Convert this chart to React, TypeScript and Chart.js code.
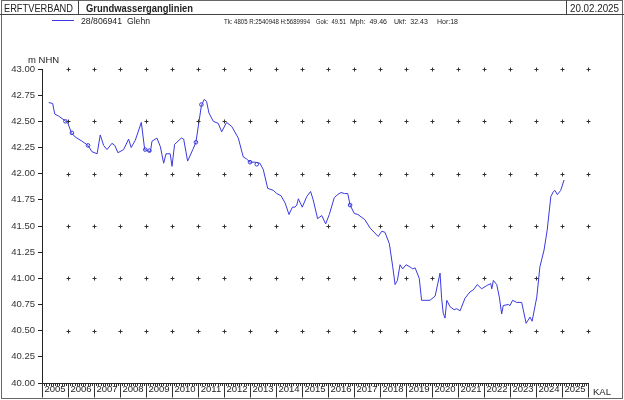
import React, { useEffect, useRef } from "react";
import { Chart, registerables } from "chart.js";

Chart.register(...registerables);

const years = [
  2005.26, 2005.41, 2005.49, 2005.64, 2005.87, 2006.0, 2006.13, 2006.28, 2006.54, 2006.77,
  2006.92, 2007.12, 2007.24, 2007.37, 2007.5, 2007.69, 2007.8, 2007.92, 2008.14, 2008.33,
  2008.43, 2008.59, 2008.82, 2008.95, 2009.17, 2009.23, 2009.42, 2009.55, 2009.68, 2009.77,
  2009.93, 2010.0, 2010.1, 2010.36, 2010.45, 2010.6, 2010.8, 2010.92, 2011.13, 2011.24,
  2011.33, 2011.42, 2011.59, 2011.78, 2011.91, 2012.1, 2012.3, 2012.55, 2012.74, 2012.87,
  2013.0, 2013.19, 2013.38, 2013.51, 2013.68, 2013.9, 2014.03, 2014.19, 2014.35, 2014.5,
  2014.63, 2014.73, 2014.8, 2014.86, 2015.01, 2015.18, 2015.33, 2015.43, 2015.6, 2015.76,
  2015.91, 2016.05, 2016.24, 2016.37, 2016.5, 2016.63, 2016.76, 2016.85, 2017.01, 2017.15,
  2017.42, 2017.62, 2017.93, 2018.07, 2018.19, 2018.36, 2018.49, 2018.58, 2018.67, 2018.77,
  2018.87, 2019.0, 2019.15, 2019.26, 2019.35, 2019.51, 2019.6, 2019.92, 2020.12, 2020.31,
  2020.37, 2020.43, 2020.5, 2020.57, 2020.69, 2020.85, 2020.95, 2021.08, 2021.27, 2021.46,
  2021.59, 2021.74, 2021.91, 2022.1, 2022.26, 2022.3, 2022.36, 2022.49, 2022.59, 2022.68,
  2022.74, 2022.93, 2023.0, 2023.1, 2023.26, 2023.45, 2023.62, 2023.77, 2023.85, 2024.03,
  2024.15, 2024.31, 2024.43, 2024.57, 2024.67, 2024.73, 2024.82, 2024.95, 2025.08,
];

const levels = [
  42.68, 42.67, 42.57, 42.55, 42.51, 42.48, 42.39, 42.35, 42.31, 42.27,
  42.21, 42.19, 42.37, 42.27, 42.23, 42.29, 42.27, 42.2, 42.23, 42.33,
  42.25, 42.32, 42.49, 42.23, 42.21, 42.31, 42.34, 42.26, 42.1, 42.19,
  42.19, 42.07, 42.28, 42.34, 42.33, 42.12, 42.23, 42.3, 42.65, 42.71,
  42.69, 42.58, 42.5, 42.48, 42.4, 42.49, 42.45, 42.34, 42.16, 42.14,
  42.11, 42.11, 42.1, 42.04, 41.86, 41.84, 41.81, 41.79, 41.72, 41.61,
  41.68, 41.68, 41.7, 41.76, 41.68, 41.78, 41.83, 41.75, 41.57, 41.6,
  41.52, 41.61, 41.77, 41.8, 41.82, 41.81, 41.81, 41.7, 41.62, 41.61,
  41.56, 41.48, 41.4, 41.45, 41.44, 41.33, 41.11, 40.94, 40.98, 41.13,
  41.09, 41.13, 41.11, 41.09, 41.1, 41.0, 40.79, 40.79, 40.83, 41.05,
  40.81, 40.67, 40.62, 40.79, 40.73, 40.7, 40.71, 40.69, 40.81, 40.87,
  40.89, 40.94, 40.9, 40.93, 40.95, 40.9, 40.98, 40.94, 40.82, 40.66,
  40.74, 40.75, 40.74, 40.79, 40.77, 40.77, 40.57, 40.63, 40.59, 40.82,
  41.11, 41.27, 41.46, 41.78, 41.83, 41.84, 41.8, 41.84, 41.94,
];

const markerYears = [2005.9, 2006.15, 2006.77, 2008.97, 2009.13, 2010.92, 2011.13, 2013.0, 2013.26, 2016.85];
const markerLevels = [42.5, 42.39, 42.27, 42.23, 42.22, 42.3, 42.66, 42.11, 42.09, 41.7];

const yearLabels = [
  "2005", "2006", "2007", "2008", "2009", "2010", "2011", "2012", "2013", "2014", "2015",
  "2016", "2017", "2018", "2019", "2020", "2021", "2022", "2023", "2024", "2025",
];

const crossLevels = [40.5, 41.0, 41.5, 42.0, 42.5, 43.0];

const infoTexts = ["Tk: 4805 R:2540948 H:5689994", "Gok:  49.51", "Mph:  49.46", "Ukf:  32.43", "Hor:18"];

const FONT = "'Liberation Sans', Arial, sans-serif";
const BLUE = "#3a3ae0";

const decorPlugin = {
  id: "decor",
  beforeDraw(chart: any) {
    const ctx = chart.ctx;
    ctx.save();
    ctx.fillStyle = "#fff";
    ctx.fillRect(0, 0, chart.width, chart.height);
    ctx.restore();
  },
  afterDraw(chart: any) {
    const ctx = chart.ctx;
    const xs = chart.scales.x;
    const ys = chart.scales.y;
    const area = chart.chartArea;
    ctx.save();
    // frame
    ctx.strokeStyle = "#666";
    ctx.lineWidth = 1;
    ctx.strokeRect(1.5, 0.5, 621, 398);
    ctx.strokeStyle = "#444";
    ctx.beginPath();
    ctx.moveTo(0, 14.5);
    ctx.lineTo(624, 14.5);
    ctx.moveTo(78.5, 0);
    ctx.lineTo(78.5, 14);
    ctx.moveTo(566.5, 0);
    ctx.lineTo(566.5, 14);
    ctx.stroke();

    ctx.fillStyle = "#222";
    ctx.textBaseline = "alphabetic";
    ctx.textAlign = "left";
    ctx.font = `11px ${FONT}`;
    ctx.fillText("ERFTVERBAND", 4, 11.5, 69);
    ctx.font = `bold 11px ${FONT}`;
    ctx.fillText("Grundwasserganglinien", 86, 11.5, 107);
    ctx.font = `11px ${FONT}`;
    ctx.fillText("20.02.2025", 570, 11.5, 49);

    // legend
    ctx.strokeStyle = BLUE;
    ctx.beginPath();
    ctx.moveTo(52, 20.5);
    ctx.lineTo(74, 20.5);
    ctx.stroke();
    ctx.fillStyle = "#222";
    ctx.font = `9px ${FONT}`;
    ctx.fillText("28/806941", 81, 24, 41);
    ctx.fillText("Glehn", 127, 24, 23);
    ctx.font = `7px ${FONT}`;
    const starts = [224, 316, 350, 394, 437];
    const widths = [86, 30, 40, 38, 30];
    infoTexts.forEach((t, i) => ctx.fillText(t, starts[i], 23.5, widths[i]));

    // axis title
    ctx.font = `9.5px ${FONT}`;
    ctx.fillText("m NHN", 28, 63);

    // crosses
    ctx.strokeStyle = "#333";
    ctx.beginPath();
    for (let yr = 2006; yr <= 2026; yr++) {
      const px = Math.round(xs.getPixelForValue(yr)) + 0.5;
      for (const lv of crossLevels) {
        const py = Math.round(ys.getPixelForValue(lv)) + 0.5;
        ctx.moveTo(px - 2, py);
        ctx.lineTo(px + 2, py);
        ctx.moveTo(px, py - 2);
        ctx.lineTo(px, py + 2);
      }
    }
    ctx.stroke();

    // year separators and monthly ticks
    const base = Math.round(area.bottom) + 0.5;
    ctx.strokeStyle = "#333";
    ctx.beginPath();
    for (let yr = 2005; yr <= 2026; yr++) {
      const px = Math.round(xs.getPixelForValue(yr)) + 0.5;
      ctx.moveTo(px, base);
      ctx.lineTo(px, base + 14);
      if (yr < 2026) {
        for (let m = 1; m < 12; m++) {
          const mx = Math.round(xs.getPixelForValue(yr + m / 12)) + 0.5;
          ctx.moveTo(mx, base);
          ctx.lineTo(mx, base + 2.5);
        }
      }
    }
    ctx.stroke();
    ctx.fillStyle = "#222";
    ctx.font = `9.5px ${FONT}`;
    ctx.fillText("KAL", 593, 395);
    ctx.restore();
  },
};

export default function App() {
  const ref = useRef<HTMLCanvasElement>(null);
  useEffect(() => {
    if (!ref.current) return;
    const chart = new Chart(ref.current, {
      type: "line",
      data: {
        datasets: [
          {
            data: years.map((x, i) => ({ x, y: levels[i] })),
            borderColor: BLUE,
            borderWidth: 1,
            pointRadius: 0,
            tension: 0,
          },
          {
            data: markerYears.map((x, i) => ({ x, y: markerLevels[i] })),
            showLine: false,
            borderColor: BLUE,
            backgroundColor: "rgba(0,0,0,0)",
            borderWidth: 1,
            pointRadius: 1.8,
          },
        ],
      },
      options: {
        responsive: false,
        animation: false,
        events: [],
        layout: { padding: { left: 0, top: 69, right: 36, bottom: 0 } },
        plugins: { legend: { display: false }, tooltip: { enabled: false } },
        scales: {
          x: {
            type: "linear",
            min: 2005,
            max: 2026,
            afterBuildTicks: (s: any) => {
              s.ticks = yearLabels.map((_, i) => ({ value: 2005.5 + i }));
            },
            afterFit: (s: any) => {
              s.height = 17;
            },
            ticks: {
              autoSkip: false,
              maxRotation: 0,
              padding: 1,
              color: "#222",
              font: { family: FONT, size: 9.5 },
              callback: (v: any) => yearLabels[Math.floor(Number(v)) - 2005],
            },
            grid: { display: false, drawTicks: false },
            border: { display: true, color: "#222", width: 1 },
          },
          y: {
            type: "linear",
            min: 40,
            max: 43,
            afterFit: (s: any) => {
              s.width = 42;
            },
            ticks: {
              stepSize: 0.25,
              padding: 3,
              color: "#333",
              font: { family: FONT, size: 9.5 },
              callback: (v: any) => Number(v).toFixed(2),
            },
            grid: { drawOnChartArea: false, drawTicks: true, tickLength: 4, color: "#222" },
            border: { display: true, color: "#222", width: 1 },
          },
        },
      },
      plugins: [decorPlugin],
    });
    return () => chart.destroy();
  }, []);
  return (
    <div style={{ position: "absolute", left: 0, top: 0, width: 624, height: 400 }}>
      <canvas ref={ref} width={624} height={400} style={{ display: "block" }} />
    </div>
  );
}
